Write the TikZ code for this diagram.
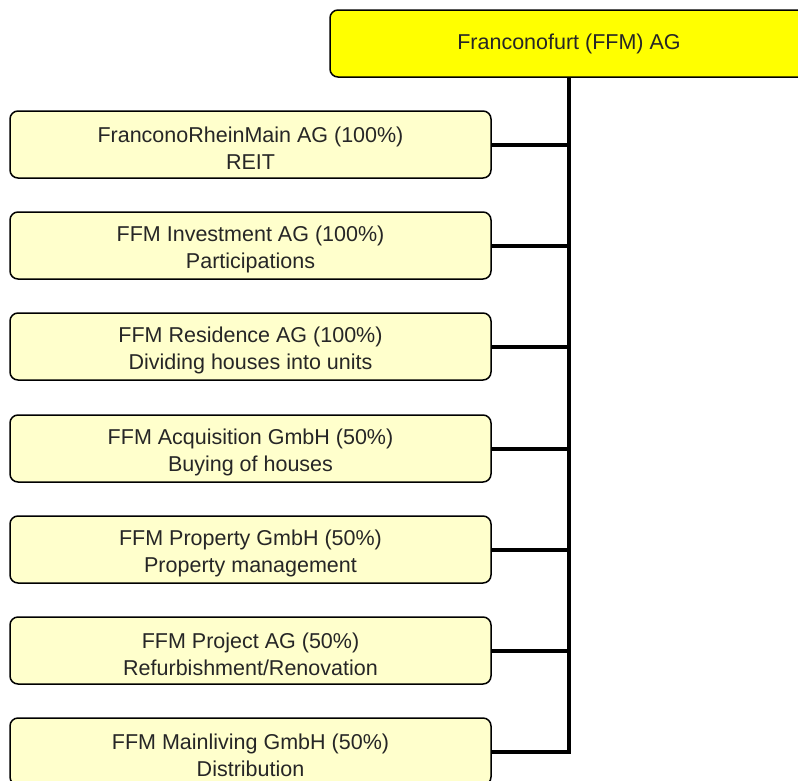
\documentclass[tikz,border=0pt]{standalone}
\usepackage{fontspec}
\setmainfont{Liberation Sans}
\definecolor{boxfill}{HTML}{FFFFCC}
\definecolor{topfill}{HTML}{FFFF00}
\newcommand\ffmstrut{\rule{0pt}{23.5pt}}
\begin{document}
\begin{tikzpicture}[x=1pt,y=-1pt,
  sub/.style={draw=black,line width=1.5pt,fill=boxfill,rounded corners=8pt,
    minimum width=481pt,minimum height=67pt,inner sep=0pt,align=center,
    font=\fontsize{21.5}{27}\selectfont,text=black!85},
  top/.style={draw=black,line width=1.5pt,fill=topfill,rounded corners=8pt,
    minimum width=478pt,minimum height=67pt,inner sep=0pt,
    font=\fontsize{21.5}{27}\selectfont,text=black!85},
  conn/.style={line width=4pt}]
\useasboundingbox (0,0) rectangle (798,780);
\clip (0,0) rectangle (798,780);
\node[top] (root) at (569,43.5) {Franconofurt (FFM) AG};
\coordinate (trunk) at (569,752);
\node[sub] (b1) at (250.5,144.5) {\ffmstrut FranconoRheinMain AG (100\%)\\REIT};
\node[sub] (b2) at (250.5,245.5) {\ffmstrut FFM Investment AG (100\%)\\Participations};
\node[sub] (b3) at (250.5,346.5) {\ffmstrut FFM Residence AG (100\%)\\Dividing houses into units};
\node[sub] (b4) at (250.5,448.5) {\ffmstrut FFM Acquisition GmbH (50\%)\\Buying of houses};
\node[sub] (b5) at (250.5,549.5) {\ffmstrut FFM Property GmbH (50\%)\\Property management};
\node[sub] (b6) at (250.5,650.5) {\ffmstrut FFM Project AG (50\%)\\Refurbishment/Renovation};
\node[sub] (b7) at (250.5,751.5) {\ffmstrut FFM Mainliving GmbH (50\%)\\Distribution};
\draw[conn] (root.south) -- ([yshift=-2pt]trunk);
\foreach \b in {b1,b2,b3,b4,b5,b6,b7}{
  \draw[conn] (\b.east) -- (\b.east -| root.south);
}
\end{tikzpicture}
\end{document}
